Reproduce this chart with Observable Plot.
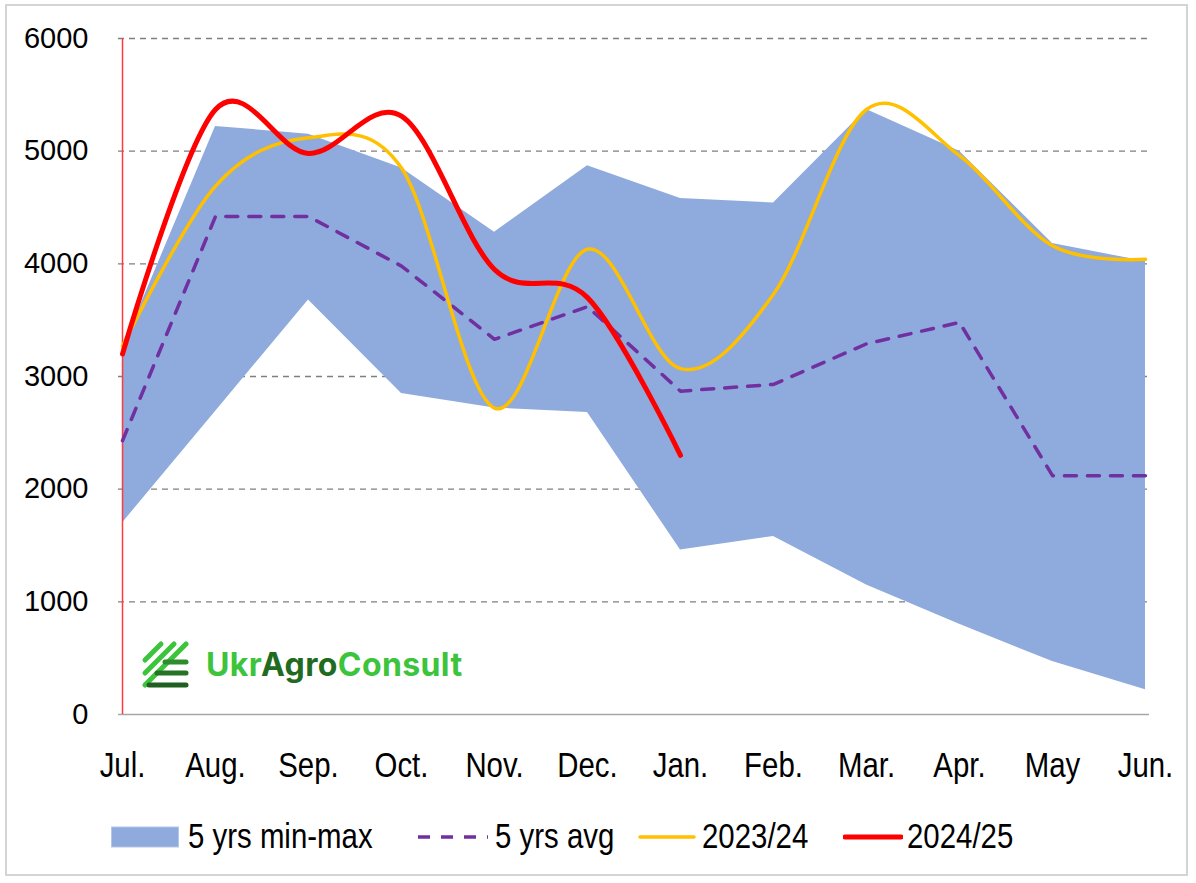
<!DOCTYPE html>
<html>
<head>
<meta charset="utf-8">
<script src="https://cdn.jsdelivr.net/npm/d3@7"></script>
<script src="https://cdn.jsdelivr.net/npm/@observablehq/plot@0.6"></script>
<style>
  html, body { margin: 0; padding: 0; background: #fff; }
  #wrap { position: relative; width: 1196px; height: 883px; overflow: hidden; }
  #frame { position: absolute; left: 5px; top: 4px; width: 1183px; height: 872px; border: 2px solid #d4d4d4; box-sizing: border-box; }
  #chart { position: absolute; left: 0; top: 0; }
  .legsw { position: absolute; top: 826px; height: 22px; }
  .legtx { position: absolute; top: 814px; font-family: "Liberation Sans", Arial, sans-serif; font-size: 35px; line-height: 44px; color: #000; white-space: nowrap; transform: scaleX(0.84); transform-origin: left center; }
  #logo { position: absolute; left: 141px; top: 640px; display: flex; align-items: center; }
  #logo span.t { font-family: Inter, "Open Sans", sans-serif; font-weight: 700; font-size: 32px; letter-spacing: 0.4px; margin-left: 15px; }
</style>
</head>
<body>
<div id="wrap">
  <div id="frame"></div>
  <div id="chart"></div>
  <div id="logo">
    <svg width="50" height="48" viewBox="0 0 50 48">
      <g stroke-linecap="round" stroke-width="5">
        <line x1="4" y1="20" x2="20" y2="4" stroke="#3cc43c"/>
        <line x1="4" y1="33" x2="33" y2="4" stroke="#3cc43c"/>
        <line x1="4" y1="45" x2="45" y2="4" stroke="#3cc43c"/>
        <line x1="24" y1="22" x2="45" y2="22" stroke="#2e8b2e"/>
        <line x1="16" y1="33" x2="45" y2="33" stroke="#267326"/>
        <line x1="8" y1="45" x2="45" y2="45" stroke="#1f5f1f"/>
      </g>
    </svg>
    <span class="t"><span style="color:#3cc43c">Ukr</span><span style="color:#216b21">Agro</span><span style="color:#3cc43c">Consult</span></span>
  </div>
</div>
<script>
const months = ["Jul.","Aug.","Sep.","Oct.","Nov.","Dec.","Jan.","Feb.","Mar.","Apr.","May","Jun."];
const minVals = [1700,2690,3680,2850,2720,2680,1460,1580,1150,800,470,220];
const maxVals = [3250,5220,5150,4850,4280,4870,4580,4540,5370,5000,4180,4020];
const avgVals = [2430,4420,4420,3980,3330,3620,2870,2930,3290,3480,2120,2120];
const s2023 = [3270,4690,5120,4850,2720,4130,3070,3730,5370,4960,4160,4040];
const s2024 = [3200,5370,4980,5310,3950,3700,2300];
const yTicks = [0,1000,2000,3000,4000,5000,6000];

const band = months.map((m,i) => ({m, lo: minVals[i], hi: maxVals[i]}));
const avg = months.map((m,i) => ({m, v: avgVals[i]}));
const l23 = months.map((m,i) => ({m, v: s2023[i]}));
const l24 = s2024.map((v,i) => ({m: months[i], v}));

const plot = Plot.plot({
  width: 1196,
  height: 790,
  marginLeft: 118,
  marginRight: 47,
  marginTop: 38,
  marginBottom: 76,
  style: {background: "transparent", overflow: "visible"},
  x: {type: "point", domain: months, padding: 0},
  y: {domain: [0, 6000]},
  marks: [
    Plot.gridY(yTicks.filter(d => d > 0), {stroke: "#7f7f7f", strokeOpacity: 1, strokeWidth: 1.3, strokeDasharray: "6,5"}),
    Plot.areaY(band, {x: "m", y1: "lo", y2: "hi", fill: "#8faadc", fillOpacity: 1}),
    Plot.ruleY([0], {stroke: "#a6a6a6", strokeWidth: 1.5}),
    Plot.ruleX([months[0]], {y1: 0, y2: 6000, stroke: "#ff3b3b", strokeWidth: 1.5}),
    Plot.lineY(avg, {x: "m", y: "v", stroke: "#7030a0", strokeWidth: 3.5, strokeDasharray: "12,11"}),
    Plot.lineY(l23, {x: "m", y: "v", stroke: "#ffc000", strokeWidth: 3.5, curve: "cardinal", tension: 0}),
    Plot.lineY(l24, {x: "m", y: "v", stroke: "#ff0000", strokeWidth: 5, curve: "cardinal", tension: 0}),
    Plot.axisY({ticks: yTicks, tickSize: 0, tickPadding: 30, tickFormat: d => String(d), fontSize: 29, fontFamily: '"Liberation Sans", Arial, sans-serif', fill: "#000", label: null}),
    Plot.axisX({tickSize: 0, tickPadding: 38, fontSize: 35, fontFamily: '"Liberation Sans", Arial, sans-serif', fill: "#000", label: null, className: "xax"})
  ]
});
document.getElementById("chart").appendChild(plot);
// condense the month labels horizontally
d3.select(plot).selectAll('g[aria-label="x-axis tick label"] text').each(function() {
  const t = d3.select(this).attr("transform") || "";
  d3.select(this).attr("transform", t + " scale(0.84,1)");
});

// legend
const legendItems = [
  {label: "5 yrs min-max", type: "rect", color: "#8faadc", left: 111, sw: 68, tx: 188},
  {label: "5 yrs avg", type: "dash", color: "#7030a0", left: 418, sw: 70, tx: 495},
  {label: "2023/24", type: "line", color: "#ffc000", left: 638, sw: 58, w: 3.5, tx: 702},
  {label: "2024/25", type: "line", color: "#ff0000", left: 843, sw: 60, w: 5, tx: 907}
];
const wrap = document.getElementById("wrap");
legendItems.forEach(it => {
  const s = document.createElement("div");
  s.className = "legsw";
  s.style.left = it.left + "px";
  if (it.type === "rect") {
    s.innerHTML = `<svg width="${it.sw}" height="22"><rect x="0.5" y="1" width="${it.sw-1}" height="20" fill="${it.color}" stroke="#b4c7e7" stroke-width="1"/></svg>`;
  } else if (it.type === "dash") {
    s.innerHTML = `<svg width="${it.sw}" height="22"><line x1="0" y1="11" x2="${it.sw}" y2="11" stroke="${it.color}" stroke-width="3.5" stroke-dasharray="12,11"/></svg>`;
  } else {
    s.innerHTML = `<svg width="${it.sw}" height="22"><line x1="2" y1="11" x2="${it.sw-2}" y2="11" stroke="${it.color}" stroke-width="${it.w}" stroke-linecap="round"/></svg>`;
  }
  wrap.appendChild(s);
  const t = document.createElement("div");
  t.className = "legtx";
  t.style.left = it.tx + "px";
  t.textContent = it.label;
  wrap.appendChild(t);
});
</script>
</body>
</html>
